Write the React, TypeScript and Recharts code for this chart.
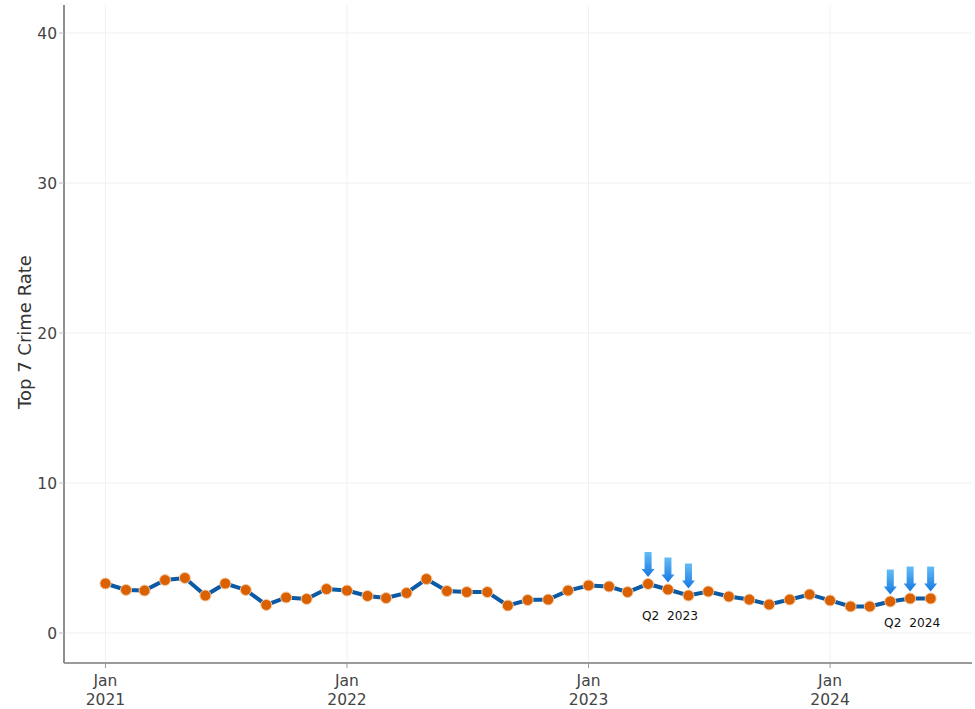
import { LineChart, Line, XAxis, YAxis, CartesianGrid, ReferenceDot, Label } from 'recharts'

const startYear = 2021
const crimeRate = [
  3.3, 2.87, 2.83, 3.53, 3.67, 2.5, 3.3, 2.87, 1.87, 2.37, 2.27, 2.93,
  2.83, 2.47, 2.33, 2.67, 3.6, 2.8, 2.73, 2.73, 1.83, 2.2, 2.23, 2.83,
  3.17, 3.1, 2.73, 3.27, 2.9, 2.5, 2.77, 2.43, 2.23, 1.9, 2.23, 2.57,
  2.17, 1.77, 1.77, 2.1, 2.3, 2.3,
]
// month indexes that get a down arrow
const arrowMonths = [27, 28, 29, 39, 40, 41]
const yTicks = [0, 10, 20, 30, 40]
const xTickYears = [2021, 2022, 2023, 2024]
const annotations = [
  { text: 'Q2\u00a0 2023', month: 28.1, value: 1.1 },
  { text: 'Q2\u00a0 2024', month: 40.1, value: 0.63 },
]

const DAY = 86400000
const monthTime = (i: number) => {
  const whole = Math.floor(i)
  const t = Date.UTC(startYear, whole, 1)
  return t + (i - whole) * 30.4 * DAY
}
const data = crimeRate.map((rate, i) => ({ time: monthTime(i), rate }))
const xDomain = [Date.UTC(2021, 0, 1) - 62.7 * DAY, Date.UTC(2021, 0, 1) + 1309.5 * DAY]

const FONT = '"DejaVu Sans", Verdana, sans-serif'

function YearTick({ x, y, payload }: any) {
  return (
    <g>
      <text x={x} y={y + 16} textAnchor="middle" fontFamily={FONT} fontSize={15.5} fill="#444">Jan</text>
      <text x={x} y={y + 35} textAnchor="middle" fontFamily={FONT} fontSize={15.5} fill="#444">
        {new Date(payload.value).getUTCFullYear()}
      </text>
    </g>
  )
}

function DownArrow({ cx, cy }: any) {
  const tip = cy - 7
  const d = `M${cx - 3.5} ${tip - 25} H${cx + 3.5} V${tip - 8} H${cx + 6.5} L${cx} ${tip} L${cx - 6.5} ${tip - 8} H${cx - 3.5} Z`
  return <path d={d} fill="url(#arrowFill)" />
}

function NoteText({ cx, cy, text }: any) {
  return (
    <text x={cx} y={cy + 3.5} textAnchor="middle" fontFamily={FONT} fontSize={12.2} fill="#111">
      {text}
    </text>
  )
}

export default function App() {
  return (
    <div style={{ position: 'absolute', left: 0, top: 1 }}>
      <LineChart width={975} height={708} data={data} margin={{ top: 4, right: 3, left: 0, bottom: 0 }}>
        <defs>
          <linearGradient id="arrowFill" x1="0" y1="0" x2="0" y2="1">
            <stop offset="0%" stopColor="#64bdf6" />
            <stop offset="100%" stopColor="#1678e0" />
          </linearGradient>
        </defs>
        <CartesianGrid stroke="#f1f1f1" verticalValues={xTickYears.map((y) => Date.UTC(y, 0, 1))} horizontalValues={yTicks} />
        <XAxis
          dataKey="time"
          type="number"
          scale="linear"
          domain={xDomain}
          allowDataOverflow
          ticks={xTickYears.map((y) => Date.UTC(y, 0, 1))}
          interval={0}
          height={46}
          tick={<YearTick />}
          axisLine={{ stroke: '#9a9a9a', strokeWidth: 2 }}
          tickLine={{ stroke: '#9a9a9a' }}
          tickSize={5}
        />
        <YAxis
          type="number"
          domain={[-2, 41.87]}
          allowDataOverflow
          ticks={yTicks}
          interval={0}
          width={64}
          tick={{ fontSize: 15.5, fill: '#444', fontFamily: FONT }}
          axisLine={{ stroke: '#8f8f8f', strokeWidth: 2 }}
          tickLine={{ stroke: '#bbb' }}
          tickSize={5}
        >
          <Label
            value="Top 7 Crime Rate"
            angle={-90}
            position="insideLeft"
            offset={0}
            style={{ fontSize: 18, fill: '#333', fontFamily: FONT, textAnchor: 'middle' }}
            dx={25}
            dy={-2}
          />
        </YAxis>
        <Line
          dataKey="rate"
          type="linear"
          stroke="#0b5aa5"
          strokeWidth={4}
          dot={{ r: 5.5, fill: '#db6100', stroke: '#f3c9a6', strokeWidth: 1, fillOpacity: 1 }}
          isAnimationActive={false}
        />
        {arrowMonths.map((m) => (
          <ReferenceDot key={m} x={monthTime(m)} y={crimeRate[m]} shape={<DownArrow />} />
        ))}
        {annotations.map((a) => (
          <ReferenceDot key={a.text} x={monthTime(a.month)} y={a.value} shape={<NoteText text={a.text} />} />
        ))}
      </LineChart>
    </div>
  )
}
